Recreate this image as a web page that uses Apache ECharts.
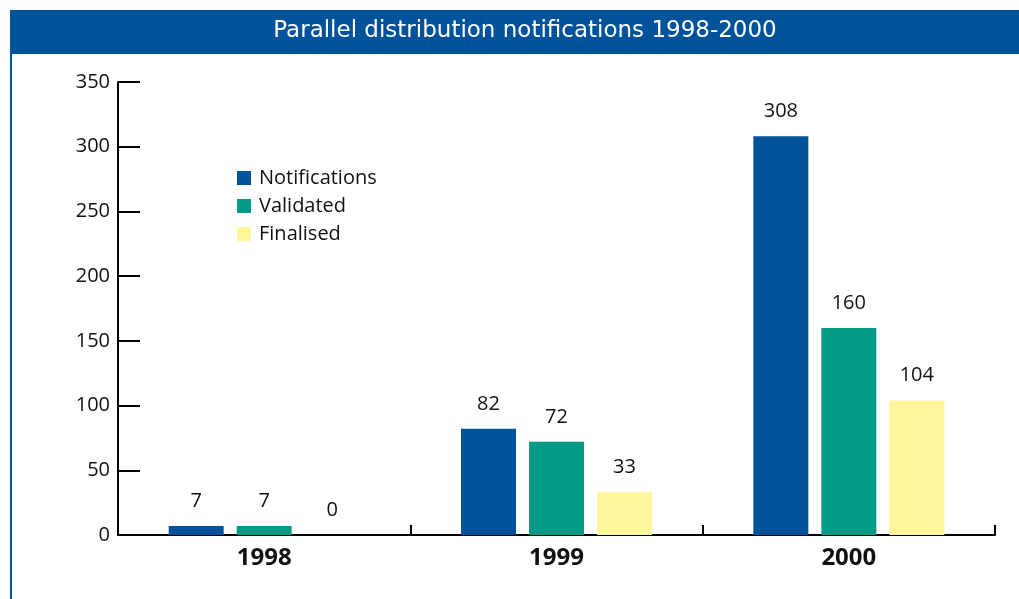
<!DOCTYPE html>
<html><head><meta charset="utf-8">
<script src="https://cdn.jsdelivr.net/npm/echarts@6/dist/echarts.min.js"></script>
<style>html,body{margin:0;padding:0;background:#fff}#c{width:1019px;height:599px}</style>
</head><body><div id="c"></div>
<script>
const categories = ['1998', '1999', '2000'];
const notifications = [7, 82, 308];
const validated = [7, 72, 160];
const finalised = [0, 33, 104];
const yTicks = [0, 50, 100, 150, 200, 250, 300, 350];

const chart = echarts.init(document.getElementById('c'));
const font = 'Open Sans';
const lbl = {show: true, position: 'top', distance: 15, color: '#111', fontSize: 20, fontFamily: font};
chart.setOption({
  animation: false,
  backgroundColor: '#fff',
  graphic: [
    {type: 'rect', shape: {x: 10, y: 10, width: 1009, height: 44}, style: {fill: '#00529b'}, z: 0},
    {type: 'rect', shape: {x: 10, y: 54, width: 2, height: 545}, style: {fill: '#00529b'}, z: 0}
  ],
  title: {
    text: 'Parallel distribution notifications 1998-2000',
    left: 520, top: 15, textAlign: 'center',
    textStyle: {color: '#fff', fontSize: 23, fontWeight: 'normal', fontFamily: 'DejaVu Sans'}
  },
  legend: {
    orient: 'vertical', left: 232, top: 163, itemWidth: 14, itemHeight: 14, itemGap: 8,
    icon: 'rect',
    textStyle: {fontSize: 20, color: '#111', fontFamily: font, padding: [0, 0, 0, 3]},
    data: ['Notifications', 'Validated', 'Finalised']
  },
  grid: {left: 118, right: 24, top: 82, bottom: 64, containLabel: false},
  xAxis: {
    type: 'category', data: categories, boundaryGap: true,
    axisLine: {lineStyle: {color: '#000', width: 2}},
    axisTick: {show: true, inside: true, length: 10, interval: 0, lineStyle: {color: '#000', width: 2}},
    axisLabel: {fontSize: 24, fontWeight: 'bold', color: '#111', fontFamily: font, margin: 11}
  },
  yAxis: {
    type: 'value', min: yTicks[0], max: yTicks[yTicks.length - 1], interval: 50,
    splitLine: {show: false},
    axisLine: {show: true, lineStyle: {color: '#000', width: 2}},
    axisTick: {show: true, inside: true, length: 22, lineStyle: {color: '#000', width: 2}},
    axisLabel: {fontSize: 20, color: '#111', fontFamily: font, margin: 8}
  },
  series: [
    {name: 'Notifications', type: 'bar', data: notifications, barWidth: 55, barGap: '23.6%', itemStyle: {color: '#00529b'}, label: lbl},
    {name: 'Validated', type: 'bar', data: validated, barWidth: 55, barGap: '23.6%', itemStyle: {color: '#009a86'}, label: lbl},
    {name: 'Finalised', type: 'bar', data: finalised, barWidth: 55, barGap: '23.6%', itemStyle: {color: '#fff799'}, label: lbl}
  ]
});
</script></body></html>
